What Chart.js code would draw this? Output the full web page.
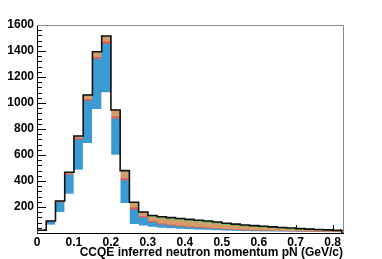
<!DOCTYPE html>
<html>
<head>
<meta charset="utf-8">
<script src="https://cdn.jsdelivr.net/npm/chart.js@4.4.0/dist/chart.umd.min.js"></script>
<style>
  html, body { margin: 0; padding: 0; background: #fff; }
  #wrap { width: 382px; height: 259px; }
</style>
</head>
<body>
<div id="wrap"><canvas id="pnChart"></canvas></div>
<script>
// lower edges of the 0.025 GeV/c bins
let binLow = [0, 0.025, 0.05, 0.075, 0.1, 0.125, 0.15, 0.175, 0.2, 0.225, 0.25,
  0.275, 0.3, 0.325, 0.35, 0.375, 0.4, 0.425, 0.45, 0.475, 0.5, 0.525, 0.55,
  0.575, 0.6, 0.625, 0.65, 0.675, 0.7, 0.725, 0.75, 0.775, 0.8];
let binWidth = 0.025;

// stacked components, bottom to top
let white = [15, 62, 159, 300, 485, 690, 951, 1080, 600, 228, 67, 55, 45, 38, 34, 30, 27, 24, 22, 19, 16, 14, 12, 11, 10, 9, 8, 7, 6, 5, 5, 4, 4];
let blue  = [4, 22, 74, 145, 230, 325, 386, 373, 277, 174, 110, 60, 35, 25, 20, 17, 15, 13, 11, 10, 8, 7, 6, 5, 4, 4, 3, 3, 3, 2, 2, 2, 1];
let red   = [1, 3, 5, 8, 12, 13, 15, 20, 18, 18, 18, 12, 10, 9, 8, 8, 7, 7, 6, 6, 5, 5, 4, 4, 3, 3, 3, 2, 2, 2, 2, 1, 1];
let tan   = [1, 4, 7, 12, 16, 28, 38, 37, 45, 50, 30, 25, 32, 38, 40, 41, 40, 38, 37, 35, 31, 28, 26, 24, 22, 19, 17, 15, 13, 12, 10, 9, 7];
let green = [0, 1, 1, 2, 3, 5, 4, 5, 6, 10, 11, 10, 13, 15, 16, 16, 16, 16, 16, 15, 15, 14, 14, 13, 13, 12, 11, 11, 10, 9, 8, 8, 7];

let yTicks = [0, 200, 400, 600, 800, 1000, 1200, 1400, 1600];
let xTicks = [0, 0.1, 0.2, 0.3, 0.4, 0.5, 0.6, 0.7, 0.8];

let toPoints = arr => arr.map((v, i) => ({x: binLow[i] + binWidth / 2, y: v}));

// outline of the summed histogram, one point per bin right edge
let totals = binLow.map((_, i) => white[i] + blue[i] + red[i] + tan[i] + green[i]);
let outline = [{x: binLow[0], y: 0}];
binLow.forEach((lo, i) => outline.push({x: lo + binWidth, y: totals[i]}));
outline.push({x: binLow[binLow.length - 1] + binWidth, y: 0});

function barSet(label, data, color) {
    return {
        type : 'bar',
        label : label,
        data : toPoints(data),
        backgroundColor : color,
        borderWidth : 0,
        barPercentage : 1,
        categoryPercentage : 1,
        stack : 'modes',
        order : 1
    };
}

// ROOT-like inward ticks and grey top/right frame
let rootFrame = {
    id : 'rootFrame',
    beforeDatasetsDraw(chart) {
        let {ctx, chartArea : a, scales : {x, y}} = chart;
        ctx.save();
        ctx.strokeStyle = '#000';
        ctx.lineWidth = 1;
        ctx.beginPath();
        for (let v = 0; v <= 1600; v += 40) {
            let py = Math.round(y.getPixelForValue(v)) + 0.5;
            let len = v % 200 === 0 ? 9 : 5;
            ctx.moveTo(a.left, py);
            ctx.lineTo(a.left + len, py);
        }
        for (let k = 0; k <= 41; k++) {
            let v = k * 0.02;
            let px = Math.round(x.getPixelForValue(v)) + 0.5;
            let len = k % 5 === 0 ? 8 : 4;
            ctx.moveTo(px, a.bottom);
            ctx.lineTo(px, a.bottom - len);
        }
        ctx.stroke();
        ctx.restore();
    },
    afterDatasetsDraw(chart) {
        let {ctx, chartArea : a} = chart;
        ctx.save();
        ctx.strokeStyle = '#8a8a8a';
        ctx.lineWidth = 1;
        ctx.beginPath();
        ctx.moveTo(a.left, Math.round(a.top) + 0.5);
        ctx.lineTo(Math.round(a.right) + 0.5, Math.round(a.top) + 0.5);
        ctx.lineTo(Math.round(a.right) + 0.5, a.bottom);
        ctx.stroke();
        ctx.restore();
    }
};

Chart.defaults.font.family = "'Liberation Sans', Arial, sans-serif";
Chart.defaults.font.weight = 'bold';
Chart.defaults.font.size = 12;
Chart.defaults.color = '#000';

let config = {
    data : {
        datasets : [
            {
                type : 'line',
                label : 'total',
                data : outline,
                stepped : 'after',
                borderColor : '#111',
                borderWidth : 1.6,
                pointRadius : 0,
                fill : false,
                stack : 'outline',
                order : 0
            },
            barSet('white', white, '#ffffff'),
            barSet('blue', blue, '#3a9bd3'),
            barSet('red', red, '#d9625e'),
            barSet('tan', tan, '#d39c68'),
            barSet('green', green, '#67c46b')
        ]
    },
    options : {
        animation : false,
        responsive : true,
        maintainAspectRatio : false,
        layout : {padding : {top : 25, right : 39, left : 0, bottom : 0}},
        plugins : {
            legend : {display : false},
            tooltip : {enabled : false}
        },
        scales : {
            x : {
                type : 'linear',
                stacked : true,
                offset : false,
                min : 0,
                max : 0.828,
                afterBuildTicks : s => { s.ticks = xTicks.map(v => ({value : v})); },
                afterFit : s => { s.height = 26; },
                grid : {display : false, drawTicks : false, offset : false},
                border : {display : true, color : '#000', width : 1},
                ticks : {
                    padding : 2,
                    maxRotation : 0,
                    autoSkip : false,
                    callback : v => v === 0 ? '0' : v.toFixed(1)
                },
                title : {
                    display : true,
                    text : 'CCQE inferred neutron momentum pN (GeV/c)',
                    align : 'end',
                    font : {size : 12, weight : 'bold', lineHeight : 1},
                    padding : {top : 0, bottom : 0}
                }
            },
            y : {
                stacked : true,
                min : 0,
                max : 1600,
                afterBuildTicks : s => { s.ticks = yTicks.map(v => ({value : v})); },
                afterFit : s => { s.width = 37; },
                grid : {display : false, drawTicks : false},
                border : {display : true, color : '#000', width : 1},
                ticks : {
                    padding : 3,
                    callback : v => v === 0 ? '' : String(v)
                }
            }
        }
    },
    plugins : [rootFrame]
};

let pnChart = new Chart(document.getElementById('pnChart').getContext('2d'), config);
</script>
</body>
</html>
